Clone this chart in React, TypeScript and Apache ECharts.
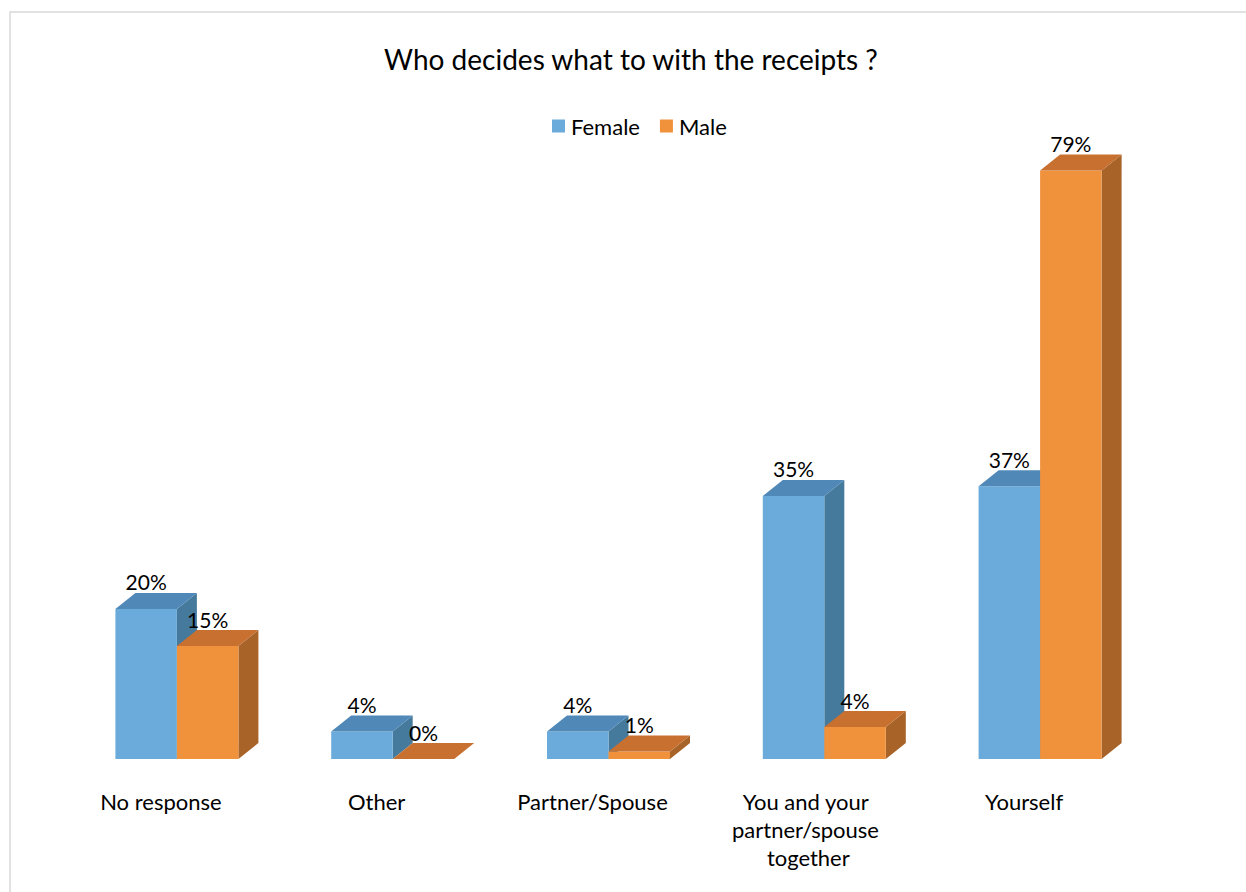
import React, { useEffect, useRef } from "react";
import * as echarts from "echarts";

const title = "Who decides what to with the receipts ?";
const categories = [
  "No response",
  "Other",
  "Partner/Spouse",
  "You and your partner/spouse together",
  "Yourself",
];
const seriesNames = ["Female", "Male"];
const femaleValues = [20.2, 3.7, 3.7, 35.4, 36.7];
const maleValues = [15.2, 0, 1.0, 4.3, 79.2];

const FONT = "Lato, 'Open Sans', sans-serif";
const DX = 20;
const DY = -16;

const palettes = [
  { front: "#6AABDB", top: "#5088B8", side: "#457A9D" },
  { front: "#F0923C", top: "#C77030", side: "#A86329" },
];

function makeRender(side: number) {
  const c = palettes[side];
  return (params: any, api: any) => {
    const idx = api.value(0);
    const val = api.value(1);
    const base = api.coord([idx, 0]);
    const top = api.coord([idx, val]);
    const band = api.size([1, 0])[0];
    const w = band * 0.285;
    const x0 = side === 0 ? base[0] - w : base[0];
    const x1 = x0 + w;
    const yb = base[1];
    const yt = top[1];
    const children: any[] = [];
    if (yb - yt > 0.5) {
      children.push({
        type: "polygon",
        shape: { points: [[x1, yb], [x1 + DX, yb + DY], [x1 + DX, yt + DY], [x1, yt]] },
        style: { fill: c.side },
      });
      children.push({
        type: "rect",
        shape: { x: x0, y: yt, width: w, height: yb - yt },
        style: { fill: c.front },
      });
    }
    children.push({
      type: "polygon",
      shape: { points: [[x0, yt], [x0 + DX, yt + DY], [x1 + DX, yt + DY], [x1, yt]] },
      style: { fill: c.top },
    });
    children.push({
      type: "text",
      x: (x0 + x1) / 2,
      y: yt - 27,
      style: {
        text: Math.round(val) + "%",
        fontSize: 21,
        fontFamily: FONT,
        fill: "#000",
        align: "center",
        verticalAlign: "middle",
      },
    });
    return { type: "group", children };
  };
}

export default function App() {
  const ref = useRef<HTMLDivElement>(null);
  useEffect(() => {
    if (!ref.current) return;
    const chart = echarts.init(ref.current, undefined, { renderer: "svg" });
    const allValues = [femaleValues, maleValues];
    chart.setOption({
      animation: false,
      backgroundColor: "#fff",
      title: {
        text: title,
        left: 626,
        textAlign: "center",
        top: 40,
        textStyle: { fontSize: 28, fontWeight: "normal", fontFamily: FONT, color: "#000" },
      },
      legend: {
        left: 547,
        top: 110,
        itemWidth: 13,
        itemHeight: 13,
        itemGap: 20,
        textStyle: { fontSize: 22, fontFamily: FONT, color: "#000", padding: [0, 0, 0, 1] },
        data: seriesNames.map((n) => ({ name: n, icon: "rect" })),
      },
      graphic: [
        {
          type: "rect",
          shape: { x: 10, y: 12, width: 1260, height: 900 },
          style: { fill: "none", stroke: "#D9D9D9", lineWidth: 1.5 },
          silent: true,
        },
      ],
      grid: { left: 69, right: 98, top: 16, bottom: 133 },
      xAxis: {
        type: "category",
        data: categories,
        axisLine: { show: false },
        axisTick: { show: false },
        axisLabel: {
          interval: 0,
          fontSize: 22,
          lineHeight: 28,
          fontFamily: FONT,
          color: "#000",
          margin: 28,
          width: 180,
          overflow: "break",
          padding: [0, 32, 0, 0],
        },
      },
      yAxis: { type: "value", min: 0, max: 100, show: false },
      series: seriesNames.map((name, s) => ({
        name,
        type: "custom",
        renderItem: makeRender(s),
        itemStyle: { color: palettes[s].front },
        encode: { x: 0, y: 1 },
        data: allValues[s].map((v, i) => [i, v]),
      })),
    });
    return () => chart.dispose();
  }, []);
  return (
    <div
      ref={ref}
      style={{ position: "fixed", left: 0, top: 0, width: 1246, height: 892 }}
    />
  );
}
